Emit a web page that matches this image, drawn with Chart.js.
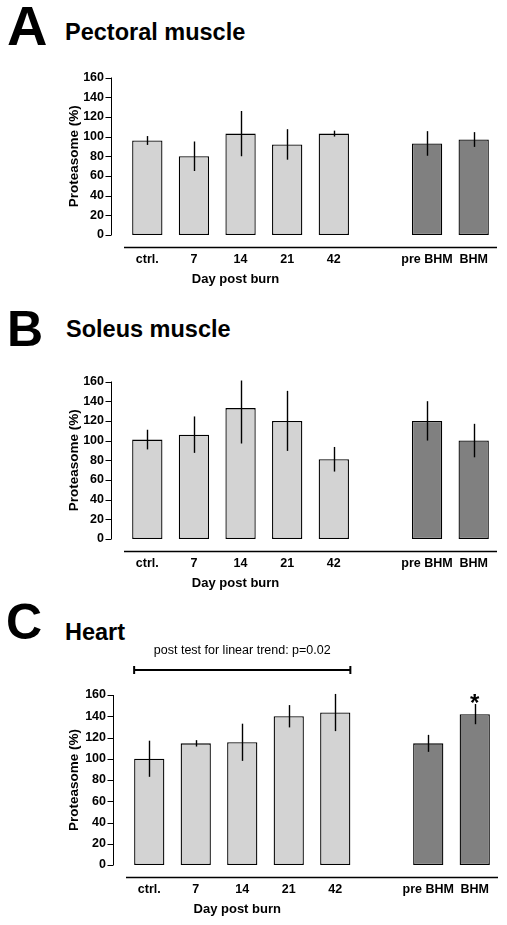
<!DOCTYPE html>
<html>
<head>
<meta charset="utf-8">
<script src="https://cdn.jsdelivr.net/npm/chart.js@4.4.0/dist/chart.umd.min.js"></script>
<style>
  body { margin: 0; background: #fff; width: 507px; height: 925px; position: relative; overflow: hidden; }
  canvas { position: absolute; left: 0; }
  svg { position: absolute; left: 0; top: 0; }
</style>
</head>
<body>
<svg width="507" height="925">
  <g font-family="Liberation Sans, Arial, sans-serif" font-weight="bold" fill="#000">
    <text x="7" y="45" font-size="56">A</text>
    <text x="65" y="40" font-size="23.5">Pectoral muscle</text>
    <text x="7" y="346" font-size="50">B</text>
    <text x="66" y="337" font-size="23.5">Soleus muscle</text>
    <text x="6" y="639" font-size="50">C</text>
    <text x="65" y="640" font-size="23.5">Heart</text>
  </g>
</svg>
<canvas id="pectoral" width="507" height="250" style="top:50px"></canvas>
<canvas id="soleus" width="507" height="246" style="top:354px"></canvas>
<canvas id="heart" width="507" height="300" style="top:625px"></canvas>
<script>
const categories = ['ctrl.', '7', '14', '21', '42', '', 'pre BHM', 'BHM'];
const barColors = ['#d3d3d3', '#d3d3d3', '#d3d3d3', '#d3d3d3', '#d3d3d3', '#d3d3d3', '#808080', '#808080'];
const yTicksMax = 160;
const xTitle = 'Day post burn';
const yTitle = 'Proteasome (%)';

const pectoralMeans = [96, 80, 103, 92, 103, null, 93, 97];
const pectoralErrors = [4.5, 15, 23, 15.5, 3, null, 12.5, 7.5];

const soleusMeans = [101, 106, 133, 120, 81, null, 120, 100];
const soleusErrors = [10, 18.5, 36, 30.5, 12.5, null, 20, 17];

const heartMeans = [100, 114.5, 115.5, 140, 143.5, null, 114.5, 142];
const heartErrors = [17, 3, 17.5, 10.5, 17.5, null, 8, 9.5];
const heartMarks = ['', '', '', '', '', '', '', '*'];
const heartTrend = { from: 0, to: 4, text: 'post test for linear trend: p=0.02' };

const FONT = '"Liberation Sans", Arial, sans-serif';

function buildPanel(id, means, errors, layout, marks, trend) {
  // draws error bars, the detached GraphPad-style axes and the annotations
  const extras = {
    id: 'extras',
    afterDatasetsDraw(chart) {
      const { ctx, chartArea: area, scales: { x, y } } = chart;
      const bars = chart.getDatasetMeta(0).data;
      ctx.save();
      ctx.strokeStyle = '#000';
      ctx.fillStyle = '#000';

      ctx.lineWidth = 1.4;
      means.forEach((v, i) => {
        if (v == null) return;
        const top = y.getPixelForValue(Math.min(v + errors[i], 161));
        const bot = y.getPixelForValue(v - errors[i]);
        ctx.beginPath();
        ctx.moveTo(Math.round(bars[i].x) + 0.5, top);
        ctx.lineTo(Math.round(bars[i].x) + 0.5, bot);
        ctx.stroke();
      });

      // y axis, pulled away from the bars
      const ax = Math.round(area.left) - 13 + 0.5;
      ctx.lineWidth = 1;
      ctx.beginPath();
      ctx.moveTo(ax, y.getPixelForValue(yTicksMax));
      ctx.lineTo(ax, y.getPixelForValue(0));
      y.ticks.forEach(t => {
        const py = Math.round(y.getPixelForValue(t.value)) + 0.5;
        ctx.moveTo(ax - 6, py);
        ctx.lineTo(ax, py);
      });
      ctx.stroke();

      // x axis, pulled away below zero
      const ay = Math.round(area.bottom) + 12 + 0.5;
      ctx.lineWidth = 1.3;
      ctx.beginPath();
      ctx.moveTo(area.left, ay);
      ctx.lineTo(area.right, ay);
      ctx.stroke();

      ctx.font = 'bold 13px ' + FONT;
      ctx.textAlign = 'center';
      ctx.textBaseline = 'middle';
      ctx.fillText(xTitle, x.getPixelForValue(2) - 5, area.bottom + 44);

      if (marks) {
        ctx.font = 'bold 24px ' + FONT;
        ctx.textBaseline = 'alphabetic';
        marks.forEach((m, i) => {
          if (!m) return;
          ctx.fillText(m, bars[i].x, y.getPixelForValue(means[i] + errors[i]) + 7);
        });
      }

      if (trend) {
        const a = bars[trend.from], b = bars[trend.to];
        const x0 = a.x - a.width / 2, x1 = b.x + b.width / 2;
        const ly = area.top - 25;
        ctx.lineWidth = 2;
        ctx.beginPath();
        ctx.moveTo(x0, ly);
        ctx.lineTo(x1, ly);
        ctx.moveTo(x0, ly - 4);
        ctx.lineTo(x0, ly + 4);
        ctx.moveTo(x1, ly - 4);
        ctx.lineTo(x1, ly + 4);
        ctx.stroke();
        ctx.font = '12.5px ' + FONT;
        ctx.textBaseline = 'middle';
        ctx.fillText(trend.text, (x0 + x1) / 2, area.top - 44);
      }
      ctx.restore();
    }
  };

  return new Chart(document.getElementById(id), {
    type: 'bar',
    data: {
      labels: categories,
      datasets: [{
        data: means,
        backgroundColor: barColors,
        borderColor: '#000',
        borderWidth: 1.3,
        borderSkipped: false,
        barPercentage: 0.65,
        categoryPercentage: 1
      }]
    },
    options: {
      responsive: false,
      animation: false,
      layout: { padding: { top: layout.top, right: layout.right, left: 0, bottom: 0 } },
      plugins: { legend: { display: false }, tooltip: { enabled: false } },
      scales: {
        x: {
          grid: { display: false, drawTicks: false },
          border: { display: false },
          ticks: {
            color: '#000',
            font: { family: FONT, size: 12.5, weight: 'bold' },
            padding: 17,
            maxRotation: 0,
            autoSkip: false
          },
          afterFit: s => { s.height = layout.bottom; }
        },
        y: {
          min: 0,
          max: yTicksMax,
          grid: { display: false, drawTicks: false },
          border: { display: false },
          ticks: {
            stepSize: 20,
            color: '#000',
            font: { family: FONT, size: 12.5, weight: 'bold' },
            padding: 20,
            autoSkip: false
          },
          title: {
            display: true,
            text: yTitle,
            color: '#000',
            font: { family: FONT, size: 13.5, weight: 'bold' },
            padding: { top: 66, bottom: 0 }
          },
          afterFit: s => { s.width = layout.left; }
        }
      }
    },
    plugins: [extras]
  });
}

buildPanel('pectoral', pectoralMeans, pectoralErrors, { top: 16, right: 10, left: 124, bottom: 65 });
buildPanel('soleus', soleusMeans, soleusErrors, { top: 16, right: 10, left: 124, bottom: 61 });
buildPanel('heart', heartMeans, heartErrors, { top: 70, right: 9, left: 126, bottom: 60 }, heartMarks, heartTrend);
</script>
</body>
</html>
